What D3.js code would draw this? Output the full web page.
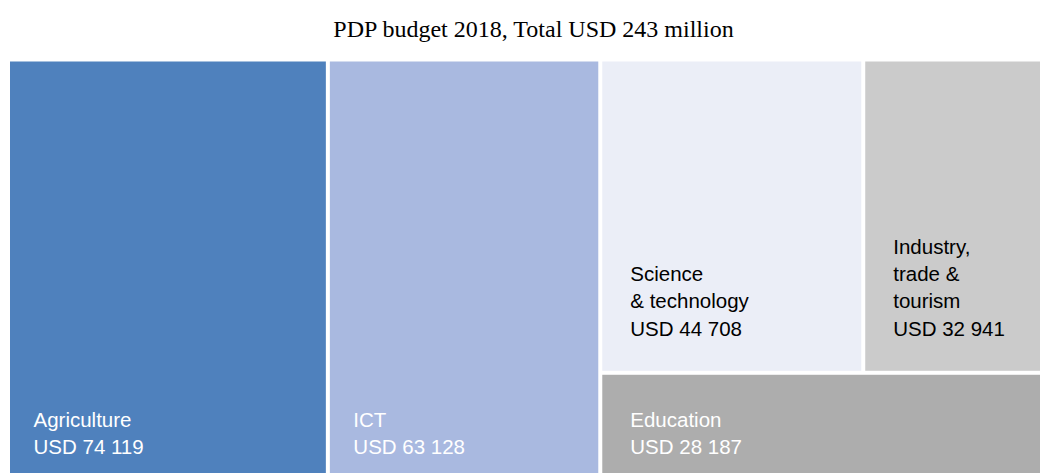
<!DOCTYPE html>
<html>
<head>
<meta charset="utf-8">
<script src="https://cdn.jsdelivr.net/npm/d3@7"></script>
<style>
  html, body { margin: 0; padding: 0; background: #ffffff; }
  svg { display: block; }
</style>
</head>
<body>
<svg id="chart" width="1040" height="473"></svg>
<script>
// PDP budget 2018 by sector (USD thousands)
const title = "PDP budget 2018, Total USD 243 million";
const categories = ["Agriculture", "ICT", "Science & technology", "Industry, trade & tourism", "Education"];
const values = [74119, 63128, 44708, 32941, 28187];
const labelLines = [
  ["Agriculture"],
  ["ICT"],
  ["Science", "& technology"],
  ["Industry,", "trade &", "tourism"],
  ["Education"]
];
// nesting of the layout: top-level columns, then the right-hand block split in rows
const groupOf = [null, null, "upper", "upper", "rest"];
const fills = ["#4f81bd", "#a9b9e0", "#ebeef7", "#cbcbcb", "#adadad"];
const textFills = ["#ffffff", "#ffffff", "#000000", "#000000", "#ffffff"];

const leaves = categories.map((name, i) => ({ name, value: values[i], index: i }));
const upper = { name: "upper", children: leaves.filter((d, i) => groupOf[i] === "upper") };
const rest = { name: "rest", children: [upper, ...leaves.filter((d, i) => groupOf[i] === "rest")] };
const data = { name: "root", children: [...leaves.filter((d, i) => groupOf[i] === null), rest] };

const root = d3.hierarchy(data).sum(d => d.children ? 0 : d.value);

d3.treemap()
  .tile(d3.treemapSliceDice)
  .size([1045, 423])
  .paddingInner(4)
  .round(false)(root);

const svg = d3.select("#chart");

svg.append("text")
  .attr("x", 533.5)
  .attr("y", 36.5)
  .attr("text-anchor", "middle")
  .attr("font-family", "'Liberation Serif', 'Times New Roman', serif")
  .attr("font-size", 24)
  .attr("fill", "#000")
  .text(title);

const fmt = d3.formatLocale({ decimal: ".", thousands: " ", grouping: [3], currency: ["", ""] }).format(",");

const g = svg.append("g").attr("transform", "translate(10,61.5)");

const cells = g.selectAll("g.cell")
  .data(root.leaves())
  .join("g")
  .attr("class", "cell");

cells.append("rect")
  .attr("x", d => d.x0)
  .attr("y", d => d.y0)
  .attr("width", d => d.x1 - d.x0)
  .attr("height", d => d.y1 - d.y0)
  .attr("fill", d => fills[d.data.index]);

const lineH = 27.3;
cells.append("text")
  .attr("font-family", "'Liberation Sans', Arial, sans-serif")
  .attr("font-size", 20.5)
  .attr("fill", d => textFills[d.data.index])
  .each(function (d) {
    const lines = [...labelLines[d.data.index], "USD " + fmt(d.data.value)];
    const padX = d.depth > 1 ? 28 : 23.5;
    const onBottom = d.y1 >= root.y1 - 0.5;
    const lastY = d.y1 - (onBottom ? 30.5 : 35);
    d3.select(this).selectAll("tspan")
      .data(lines)
      .join("tspan")
      .attr("x", d.x0 + padX)
      .attr("y", (t, i) => lastY - (lines.length - 1 - i) * lineH)
      .text(t => t);
  });
</script>
</body>
</html>
